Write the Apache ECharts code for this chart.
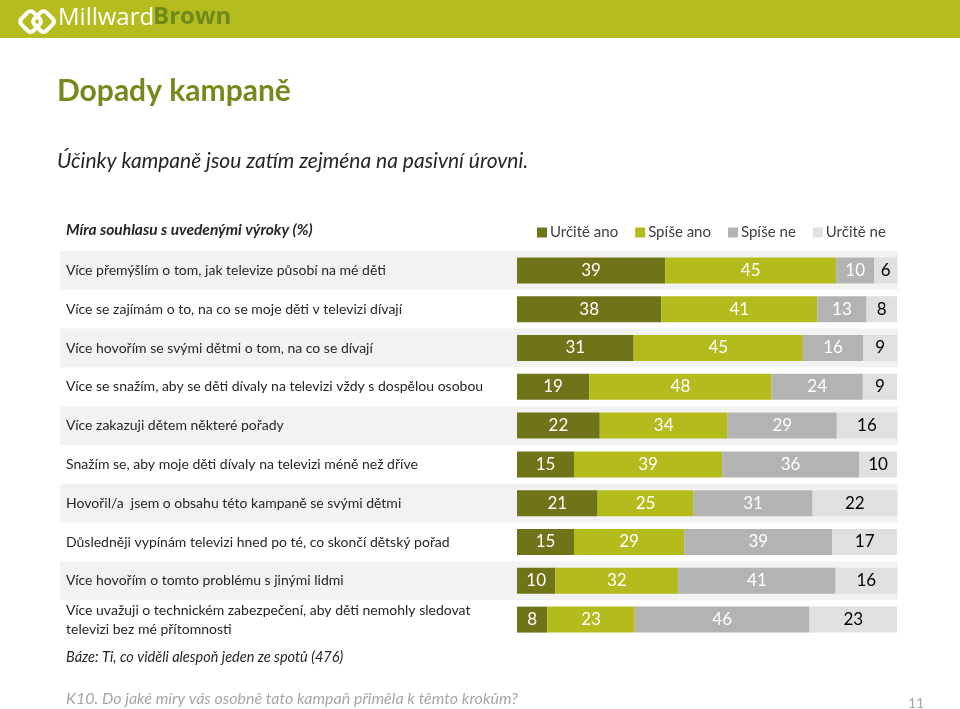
<!DOCTYPE html>
<html>
<head>
<meta charset="utf-8">
<script src="https://cdn.jsdelivr.net/npm/echarts@6/dist/echarts.min.js"></script>
<style>
html,body{margin:0;padding:0;background:#fff;}
#chart{width:960px;height:709px;}
</style>
</head>
<body>
<div id="chart"></div>
<script>
const categories = [
  'Více přemýšlím o tom, jak televize působí na mé děti',
  'Více se zajímám o to, na co se moje děti v televizi dívají',
  'Více hovořím se svými dětmi o tom, na co se dívají',
  'Více se snažím, aby se děti dívaly na televizi vždy s dospělou osobou',
  'Více zakazuji dětem některé pořady',
  'Snažím se, aby moje děti dívaly na televizi méně než dříve',
  'Hovořil/a  jsem o obsahu této kampaně se svými dětmi',
  'Důsledněji vypínám televizi hned po té, co skončí dětský pořad',
  'Více hovořím o tomto problému s jinými lidmi',
  'Více uvažuji o technickém zabezpečení, aby děti nemohly sledovat\ntelevizi bez mé přítomnosti'
];
const seriesNames = ['Určitě ano', 'Spíše ano', 'Spíše ne', 'Určitě ne'];
const urciteAno = [39, 38, 31, 19, 22, 15, 21, 15, 10, 8];
const spiseAno  = [45, 41, 45, 48, 34, 39, 25, 29, 32, 23];
const spiseNe   = [10, 13, 16, 24, 29, 36, 31, 39, 41, 46];
const urciteNe  = [6, 8, 9, 9, 16, 10, 22, 17, 16, 23];

const colors = ['#6f7418', '#b3bb1d', '#b3b3b3', '#e0e0e0'];
const labelColors = ['#ffffff', '#ffffff', '#ffffff', '#000000'];
const FONT = 'Lato, "Open Sans", sans-serif';

const raw = [urciteAno, spiseAno, spiseNe, urciteNe];
const totals = categories.map((_, i) => raw.reduce((s, arr) => s + arr[i], 0));

const chart = echarts.init(document.getElementById('chart'), null, {renderer: 'canvas'});

const series = raw.map((arr, k) => ({
  name: seriesNames[k],
  type: 'bar',
  stack: 'all',
  xAxisIndex: 1,
  yAxisIndex: 1,
  barWidth: 26,
  itemStyle: {color: colors[k]},
  label: {
    show: true,
    position: 'inside',
    color: labelColors[k],
    fontFamily: FONT,
    fontSize: 17,
    formatter: p => String(arr[p.dataIndex])
  },
  emphasis: {disabled: true},
  data: arr.map((v, i) => v / totals[i] * 100)
}));

const option = {
  animation: false,
  textStyle: {fontFamily: FONT},
  legend: {
    left: 532,
    top: 220,
    itemWidth: 10,
    itemHeight: 10,
    itemGap: 17,
    icon: 'rect',
    textStyle: {fontFamily: FONT, fontSize: 15, color: '#404040', padding: [0, 0, 0, -2]},
    data: seriesNames
  },
  grid: [
    {left: 60, top: 251, width: 838, height: 388},
    {left: 517, top: 251, width: 380, height: 388}
  ],
  xAxis: [
    {gridIndex: 0, type: 'value', show: false, min: 0, max: 100},
    {gridIndex: 1, type: 'value', show: false, min: 0, max: 100}
  ],
  yAxis: [
    {
      gridIndex: 0, type: 'category', inverse: true, data: categories,
      axisLine: {show: false}, axisTick: {show: false},
      splitLine: {show: false},
      splitArea: {show: true, interval: 0, areaStyle: {color: ['#f2f2f2', '#ffffff']}},
      axisLabel: {
        inside: true, interval: 0, margin: 6,
        fontFamily: FONT, fontSize: 14, color: '#262626', lineHeight: 19
      }
    },
    {
      gridIndex: 1, type: 'category', inverse: true, data: categories, show: false
    }
  ],
  series: series,
  graphic: [
    {type: 'rect', shape: {x: 0, y: 0, width: 960, height: 38}, style: {fill: '#b4bc1e'}},
    {type: 'group', left: 15, top: 6, children: [
      {type: 'rect', shape: {x: 0, y: 6, width: 17, height: 17, r: 4}, rotation: Math.PI / 4, originX: 8, originY: 14, style: {fill: 'none', stroke: '#ffffff', lineWidth: 4}},
      {type: 'rect', shape: {x: 13, y: 6, width: 17, height: 17, r: 4}, rotation: Math.PI / 4, originX: 21, originY: 14, style: {fill: 'none', stroke: '#ffffff', lineWidth: 4}}
    ]},
    {type: 'text', left: 58, top: 6, style: {text: 'Millward', fill: '#ffffff', font: '24px "Open Sans", sans-serif'}},
    {type: 'text', left: 153, top: 5, style: {text: 'Brown', fill: '#6d8a1b', font: 'bold 24px "Open Sans", sans-serif'}},
    {type: 'text', left: 57, top: 76, style: {text: 'Dopady kampaně', fill: '#76891c', font: 'bold 30px ' + FONT}},
    {type: 'text', left: 57, top: 151, style: {text: 'Účinky kampaně jsou zatím zejména na pasivní úrovni.', fill: '#262626', font: 'italic 21px ' + FONT}},
    {type: 'text', left: 66, top: 222, style: {text: 'Míra souhlasu s uvedenými výroky (%)', fill: '#262626', font: 'italic bold 15.5px ' + FONT}},
    {type: 'text', left: 66, top: 650, style: {text: 'Báze: Ti, co viděli alespoň jeden ze spotů (476)', fill: '#262626', font: 'italic 14.5px ' + FONT}},
    {type: 'text', left: 66, top: 691, style: {text: 'K10. Do jaké míry vás osobně tato kampaň přiměla k těmto krokům?', fill: '#a6a6a6', font: 'italic 16px ' + FONT}},
    {type: 'text', left: 908, top: 696, style: {text: '11', fill: '#a6a6a6', font: '14px ' + FONT}}
  ]
};
chart.setOption(option);
</script>
</body>
</html>
